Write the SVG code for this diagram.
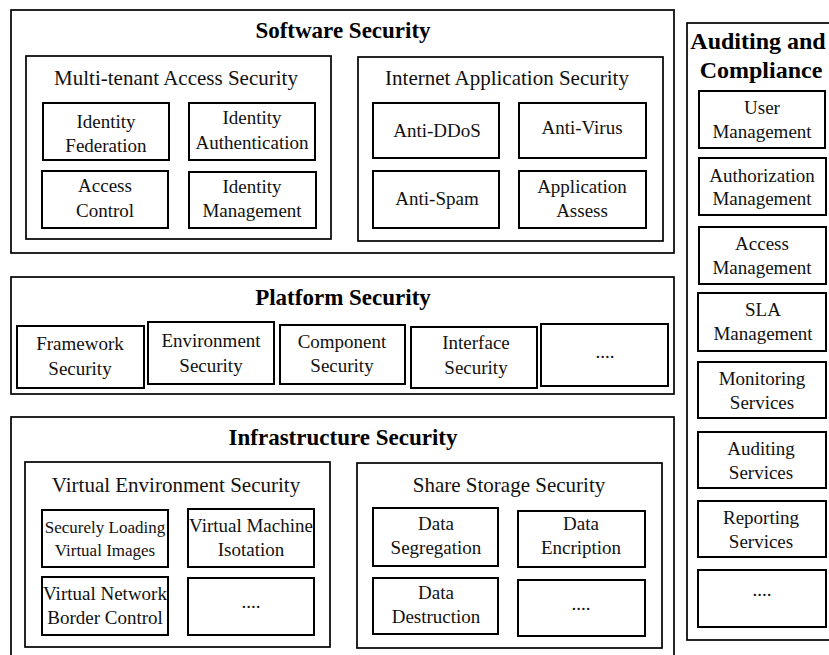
<svg xmlns="http://www.w3.org/2000/svg" width="829" height="655" viewBox="0 0 829 655">
<style>
.outer{fill:#fff;stroke:#000;stroke-width:1.7}
.box{fill:#fff;stroke:#000;stroke-width:2}
.t{font-family:"Liberation Serif","DejaVu Serif",serif;font-size:19px;fill:#111;text-anchor:middle}
.sub{font-family:"Liberation Serif","DejaVu Serif",serif;font-size:21px;fill:#111;text-anchor:middle}
.h{font-family:"Liberation Serif","DejaVu Serif",serif;font-size:23px;font-weight:bold;fill:#000;text-anchor:middle}
</style>
<rect width="829" height="655" fill="#fff"/>

<g id="software-security">
<rect class="outer" x="11" y="10" width="663" height="243"/>
<text class="h" x="343" y="38">Software Security</text>
</g>
<g id="multi-tenant">
<rect class="outer" x="26" y="56" width="305" height="183"/>
<text class="sub" x="176" y="85">Multi-tenant Access Security</text>
</g>
<g id="identity-federation"><rect class="box" x="43" y="103" width="126" height="57"/><text class="t" x="106" y="128">Identity</text><text class="t" x="106" y="152">Federation</text></g>
<g id="identity-authentication"><rect class="box" x="189" y="103" width="126" height="57"/><text class="t" x="252" y="124">Identity</text><text class="t" x="252" y="149">Authentication</text></g>
<g id="access-control"><rect class="box" x="42" y="171" width="126" height="57"/><text class="t" x="105" y="192">Access</text><text class="t" x="105" y="217">Control</text></g>
<g id="identity-management"><rect class="box" x="189" y="172" width="127" height="56"/><text class="t" x="252" y="193">Identity</text><text class="t" x="252" y="217">Management</text></g>

<g id="internet-app">
<rect class="outer" x="358" y="57" width="305" height="184"/>
<text class="sub" x="507" y="85">Internet Application Security</text>
</g>
<g id="anti-ddos"><rect class="box" x="373" y="103" width="126" height="55"/><text class="t" x="437" y="137">Anti-DDoS</text></g>
<g id="anti-virus"><rect class="box" x="519" y="103" width="127" height="55"/><text class="t" x="582" y="134">Anti-Virus</text></g>
<g id="anti-spam"><rect class="box" x="373" y="171" width="126" height="57"/><text class="t" x="437" y="205">Anti-Spam</text></g>
<g id="application-assess"><rect class="box" x="519" y="171" width="127" height="57"/><text class="t" x="582" y="193">Application</text><text class="t" x="582" y="217">Assess</text></g>

<g id="platform-security">
<rect class="outer" x="11" y="277" width="663" height="117"/>
<text class="h" x="343" y="305">Platform Security</text>
</g>
<g id="framework-security"><rect class="box" x="17" y="326" width="127" height="62"/><text class="t" x="80" y="350">Framework</text><text class="t" x="80" y="375">Security</text></g>
<g id="environment-security"><rect class="box" x="148" y="322" width="126" height="62"/><text class="t" x="211" y="347">Environment</text><text class="t" x="211" y="372">Security</text></g>
<g id="component-security"><rect class="box" x="280" y="325" width="125" height="59"/><text class="t" x="342" y="348">Component</text><text class="t" x="342" y="372">Security</text></g>
<g id="interface-security"><rect class="box" x="411" y="327" width="126" height="61"/><text class="t" x="476" y="349">Interface</text><text class="t" x="476" y="374">Security</text></g>
<g id="platform-more"><rect class="box" x="541" y="324" width="127" height="62"/><text class="t" x="605" y="358">....</text></g>

<g id="infrastructure-security">
<rect class="outer" x="11" y="417" width="663" height="250"/>
<text class="h" x="343" y="445">Infrastructure Security</text>
</g>
<g id="virtual-env">
<rect class="outer" x="25" y="462" width="305" height="185"/>
<text class="sub" x="176" y="492">Virtual Environment Security</text>
</g>
<g id="securely-loading"><rect class="box" x="42" y="510" width="126" height="57"/><text class="t" style="font-size:17px" x="105" y="533">Securely Loading</text><text class="t" style="font-size:17px" x="105" y="556">Virtual Images</text></g>
<g id="vm-isolation"><rect class="box" x="188" y="509" width="126" height="58"/><text class="t" x="251" y="532">Virtual Machine</text><text class="t" x="251" y="556">Isotation</text></g>
<g id="vn-border"><rect class="box" x="42" y="577" width="126" height="58"/><text class="t" x="105" y="600">Virtual Network</text><text class="t" x="105" y="624">Border Control</text></g>
<g id="virtual-more"><rect class="box" x="188" y="578" width="126" height="57"/><text class="t" x="251" y="608">....</text></g>

<g id="share-storage">
<rect class="outer" x="357" y="463" width="305" height="185"/>
<text class="sub" x="509" y="492">Share Storage Security</text>
</g>
<g id="data-segregation"><rect class="box" x="373" y="508" width="125" height="58"/><text class="t" x="436" y="530">Data</text><text class="t" x="436" y="554">Segregation</text></g>
<g id="data-encription"><rect class="box" x="518" y="511" width="127" height="56"/><text class="t" x="581" y="530">Data</text><text class="t" x="581" y="554">Encription</text></g>
<g id="data-destruction"><rect class="box" x="373" y="578" width="125" height="56"/><text class="t" x="436" y="599">Data</text><text class="t" x="436" y="623">Destruction</text></g>
<g id="storage-more"><rect class="box" x="518" y="580" width="127" height="56"/><text class="t" x="581" y="610">....</text></g>

<g id="auditing-compliance">
<rect class="outer" x="687" y="23" width="160" height="617"/>
<text class="h" style="font-size:24px" x="758" y="49">Auditing and</text>
<text class="h" style="font-size:24px" x="761" y="78">Compliance</text>
</g>
<g id="user-management"><rect class="box" x="699" y="91" width="126" height="57"/><text class="t" x="762" y="114">User</text><text class="t" x="762" y="138">Management</text></g>
<g id="authorization-management"><rect class="box" x="699" y="158" width="127" height="57"/><text class="t" x="762" y="182">Authorization</text><text class="t" x="762" y="205">Management</text></g>
<g id="access-management"><rect class="box" x="699" y="227" width="127" height="57"/><text class="t" x="762" y="250">Access</text><text class="t" x="762" y="274">Management</text></g>
<g id="sla-management"><rect class="box" x="698" y="293" width="128" height="58"/><text class="t" x="763" y="316">SLA</text><text class="t" x="763" y="340">Management</text></g>
<g id="monitoring-services"><rect class="box" x="698" y="362" width="128" height="56"/><text class="t" x="762" y="385">Monitoring</text><text class="t" x="762" y="409">Services</text></g>
<g id="auditing-services"><rect class="box" x="698" y="432" width="128" height="56"/><text class="t" x="761" y="455">Auditing</text><text class="t" x="761" y="479">Services</text></g>
<g id="reporting-services"><rect class="box" x="698" y="501" width="128" height="56"/><text class="t" x="761" y="524">Reporting</text><text class="t" x="761" y="548">Services</text></g>
<g id="auditing-more"><rect class="box" x="698" y="570" width="128" height="57"/><text class="t" x="762" y="596">....</text></g>

<g id="connectors"></g>
</svg>
